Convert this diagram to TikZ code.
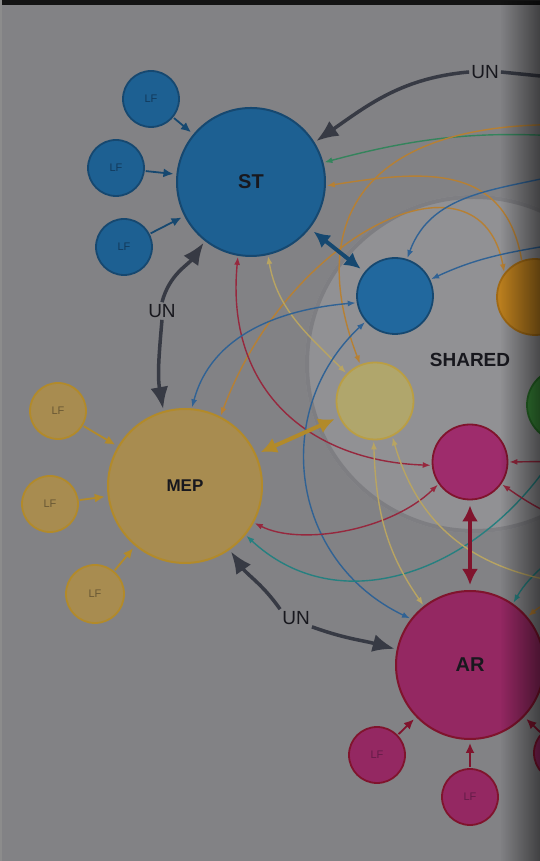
\documentclass[tikz,border=0pt]{standalone}
\usepackage{fontspec}
\setmainfont{Liberation Sans}
\usepackage{tikz}
\usetikzlibrary{arrows.meta,fadings}
\definecolor{canvasgray}{RGB}{130,130,133}
\definecolor{sharedgray}{RGB}{145,145,148}
\definecolor{sharedrim}{RGB}{126,126,130}
\definecolor{stfill}{RGB}{29,96,146}
\definecolor{stline}{RGB}{22,72,112}
\definecolor{stink}{RGB}{18,58,92}
\definecolor{shbluefill}{RGB}{33,104,158}
\definecolor{mepfill}{RGB}{168,140,80}
\definecolor{mepline}{RGB}{178,138,42}
\definecolor{mepink}{RGB}{105,88,52}
\definecolor{yellowfill}{RGB}{176,166,108}
\definecolor{yellowline}{RGB}{186,158,68}
\definecolor{orangefill}{RGB}{186,126,30}
\definecolor{orangeline}{RGB}{160,105,20}
\definecolor{greenfill}{RGB}{58,138,58}
\definecolor{greenline}{RGB}{40,110,40}
\definecolor{arfill}{RGB}{148,40,98}
\definecolor{arline}{RGB}{128,20,45}
\definecolor{arink}{RGB}{100,28,72}
\definecolor{magfill}{RGB}{158,44,108}
\definecolor{unink}{RGB}{55,58,68}
\definecolor{labelink}{RGB}{24,24,30}
\definecolor{lkgreen}{RGB}{52,132,92}
\definecolor{lkorange}{RGB}{182,128,52}
\definecolor{lkyellow}{RGB}{184,164,98}
\definecolor{lkred}{RGB}{150,40,62}
\definecolor{lkblue}{RGB}{48,98,148}
\definecolor{lkteal}{RGB}{38,128,128}
\tikzfading[name=fade right,left color=transparent!100,right color=transparent!0]
\tikzset{
  hubnode/.style={circle,line width=2pt,inner sep=0pt,minimum size=148pt,text=labelink,
                  font=\bfseries\fontsize{20}{20}\selectfont},
  leafnode/.style={circle,line width=1.8pt,inner sep=0pt,minimum size=56pt,
                   font=\fontsize{11}{11}\selectfont},
  sharednode/.style={circle,line width=1.8pt,inner sep=0pt,minimum size=76pt},
  stnode/.style={fill=stfill,draw=stline,text=stink},
  mepnode/.style={fill=mepfill,draw=mepline,text=mepink},
  arnode/.style={fill=arfill,draw=arline,text=arink},
  unlabel/.style={text=labelink,inner sep=2pt,font=\fontsize{19}{19}\selectfont},
  unarrow/.style={draw=unink,line width=3.5pt,-{Latex[length=22pt,width=18pt]},shorten >=2pt},
  unline/.style={draw=unink,line width=3.5pt},
  duplex/.style={line width=4pt,{Latex[length=16pt,width=16pt]}-{Latex[length=16pt,width=16pt]},
                 shorten >=5pt,shorten <=5pt},
  feedarrow/.style={line width=1.8pt,-{Latex[length=10pt,width=9pt]},shorten >=3pt,shorten <=1pt},
  linkarrow/.style={line width=1.4pt,-{Latex[length=8pt,width=6pt]},shorten >=1pt},
  twoway/.style={line width=1.4pt,{Latex[length=8pt,width=6pt]}-{Latex[length=8pt,width=6pt]},
                 shorten >=1pt,shorten <=1pt},
}

\begin{document}
\begin{tikzpicture}[x=1pt,y=1pt]
  \useasboundingbox (0,0) rectangle (540,861);
  \clip (0,0) rectangle (540,861);
  \fill[canvasgray] (0,0) rectangle (540,861);
  \fill[sharedgray] (474,497) circle (169);
  \draw[sharedrim,line width=4pt] (474,497) circle (167);
  \node[text=labelink,font=\bfseries\fontsize{19}{19}\selectfont] (sharedlabel) at (470,501) {SHARED};

  \node[hubnode,stnode,text=labelink] (st) at (251,679) {ST};
  \node[hubnode,mepnode,text=labelink,minimum size=154pt,font=\bfseries\fontsize{17}{17}\selectfont] (mep) at (185,375) {MEP};
  \node[hubnode,arnode,text=labelink] (ar) at (470,196) {AR};

  \node[leafnode,stnode] (stlfa) at (151,762) {LF};
  \node[leafnode,stnode] (stlfb) at (116,693) {LF};
  \node[leafnode,stnode] (stlfc) at (124,614) {LF};
  \node[leafnode,mepnode] (meplfa) at (58,450) {LF};
  \node[leafnode,mepnode] (meplfb) at (50,357) {LF};
  \node[leafnode,mepnode,minimum size=58pt] (meplfc) at (95,267) {LF};
  \node[leafnode,arnode] (arlfa) at (377,106) {LF};
  \node[leafnode,arnode] (arlfb) at (470,64) {LF};
  \node[leafnode,arnode] (arlfc) at (562,108) {};

  \node[sharednode,fill=shbluefill,draw=stline] (shblue) at (395,565) {};
  \node[sharednode,fill=orangefill,draw=orangeline] (shorange) at (535,564) {};
  \node[sharednode,fill=yellowfill,draw=yellowline,minimum size=77pt] (shyellow) at (375,460) {};
  \node[sharednode,fill=greenfill,draw=greenline,minimum size=74pt] (shgreen) at (564,456) {};
  \node[sharednode,fill=magfill,draw=arline,minimum size=75pt] (shmag) at (470,399) {};

  \node[unlabel] (untop) at (485,789) {UN};
  \node[unlabel] (unleft) at (162,550) {UN};
  \node[unlabel] (unbot) at (296,243) {UN};

  \coordinate (untopend) at (560,783);
  \coordinate (greensrc) at (600,722);
  \coordinate (orangesrc) at (600,735);
  \coordinate (orangesrcb) at (590,270);
  \coordinate (yellowsrc) at (590,275);
  \coordinate (tealsrc) at (585,470);
  \coordinate (tealsrcb) at (575,330);
  \coordinate (redsrc) at (580,400);
  \coordinate (redsrcb) at (580,335);
  \coordinate (bluesrc) at (575,690);
  \coordinate (bluesrcb) at (575,620);

  \draw[linkarrow,lkgreen] (greensrc) to[out=175,in=15] (st.15);
  \draw[linkarrow,lkorange] (shorange.110) .. controls (505,700) and (420,690) .. (st.-3);
  \draw[twoway,lkorange] (mep.63) .. controls (290,630) and (480,720) .. (shorange.142);
  \draw[linkarrow,lkorange] (orangesrc) .. controls (360,750) and (305,640) .. (shyellow.112);
  \draw[twoway,lkyellow] (st.-77) to[out=-80,in=135] (shyellow.136);
  \draw[twoway,lkred] (st.-100) .. controls (225,470) and (310,400) .. (shmag.185);
  \draw[twoway,lkblue] (mep.85) to[out=75,in=185] (shblue.190);
  \draw[twoway,lkblue] (shblue.221) .. controls (270,450) and (290,300) .. (ar.142);
  \draw[twoway,lkred] (mep.-28) .. controls (300,315) and (390,330) .. (shmag.215);
  \draw[linkarrow,lkteal] (tealsrc) .. controls (535,320) and (360,220) .. (mep.-39);
  \draw[linkarrow,lkteal] (tealsrcb) to[out=235,in=60] (ar.55);
  \draw[linkarrow,lkorange] (orangesrcb) to[out=200,in=40] (ar.40);
  \draw[linkarrow,lkyellow] (yellowsrc) .. controls (480,285) and (420,330) .. (shyellow.-64);
  \draw[twoway,lkyellow] (shyellow.-92) to[out=-88,in=125] (ar.128);
  \draw[linkarrow,lkred] (redsrc) -- (shmag.0);
  \draw[linkarrow,lkred] (redsrcb) to[out=160,in=-35] (shmag.-35);
  \draw[linkarrow,lkblue] (bluesrc) to[out=195,in=70] (shblue.72);
  \draw[linkarrow,lkblue] (bluesrcb) to[out=190,in=25] (shblue.25);

  \draw[duplex,stline] (st) -- (shblue);
  \draw[duplex,mepline] (mep) -- (shyellow);
  \draw[duplex,arline] (shmag) -- (ar);

  \draw[feedarrow,stline] (stlfa) -- (st);
  \draw[feedarrow,stline] (stlfb) -- (st);
  \draw[feedarrow,stline] (stlfc) -- (st);
  \draw[feedarrow,mepline] (meplfa) -- (mep);
  \draw[feedarrow,mepline] (meplfb) -- (mep);
  \draw[feedarrow,mepline] (meplfc) -- (mep);
  \draw[feedarrow,arline] (arlfa) -- (ar);
  \draw[feedarrow,arline] (arlfb) -- (ar);
  \draw[feedarrow,arline] (arlfc) -- (ar);

  \draw[unarrow] (untop.west) to[out=185,in=35] (st.32);
  \draw[unline] (untop.east) -- (untopend);
  \draw[unarrow] (unleft.north) to[out=75,in=235] (st.232);
  \draw[unarrow] (unleft.south) to[out=-95,in=100] (mep.106);
  \draw[unarrow] (unbot.north west) to[out=125,in=-55] (mep.-55);
  \draw[unarrow] (unbot.south east) to[out=-20,in=165] (ar.168);

  \fill[black!92] (0,856) rectangle (540,861);
  \fill[black!45] (0,0) rectangle (2,861);
  \fill[black,opacity=0.5,path fading=fade right] (500,0) rectangle (540,861);
\end{tikzpicture}
\end{document}
